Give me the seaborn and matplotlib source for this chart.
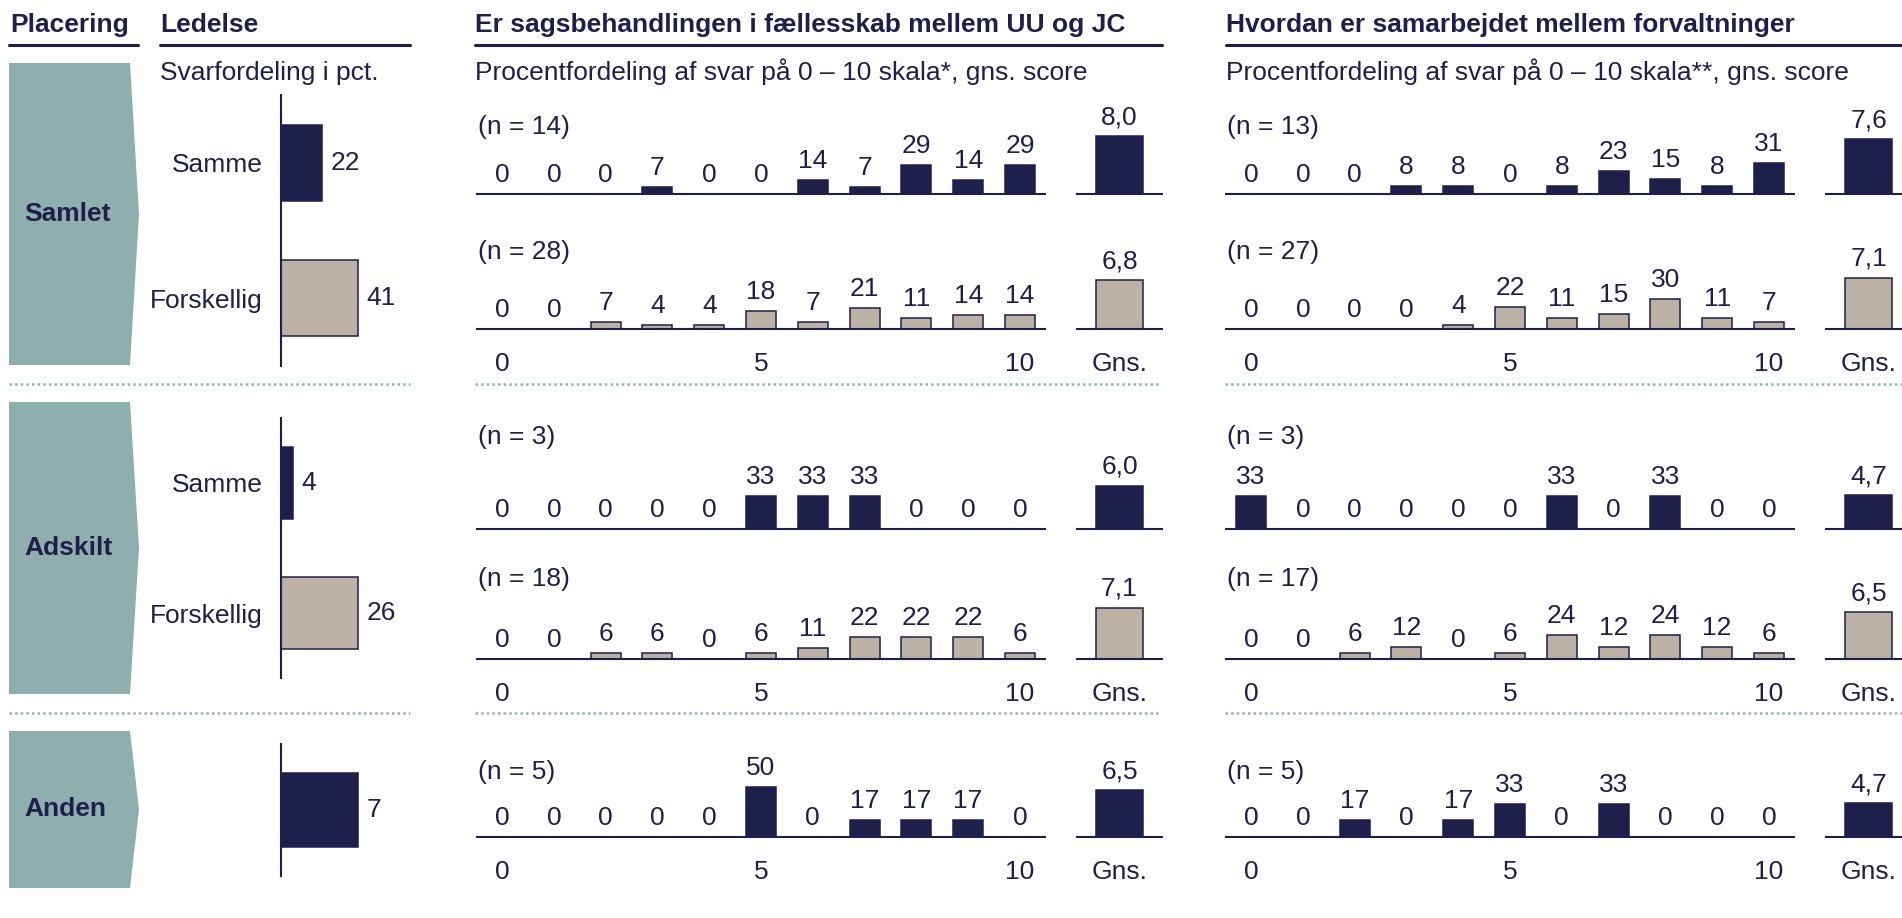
import matplotlib
matplotlib.use('Agg')
import matplotlib.pyplot as plt
from matplotlib.patches import Polygon
from matplotlib.lines import Line2D
import seaborn as sns


# ---- data ----
groups = ['Samlet', 'Adskilt', 'Anden']

ledelse_samlet = [22, 41]
ledelse_adskilt = [4, 26]
ledelse_anden = [7]
ledelse_cats = ['Samme', 'Forskellig']

scale = list(range(11))

# Er sagsbehandlingen i fællesskab mellem UU og JC
sags_samlet_samme = [0, 0, 0, 7, 0, 0, 14, 7, 29, 14, 29]
sags_samlet_forsk = [0, 0, 7, 4, 4, 18, 7, 21, 11, 14, 14]
sags_adskilt_samme = [0, 0, 0, 0, 0, 33, 33, 33, 0, 0, 0]
sags_adskilt_forsk = [0, 0, 6, 6, 0, 6, 11, 22, 22, 22, 6]
sags_anden = [0, 0, 0, 0, 0, 50, 0, 17, 17, 17, 0]
sags_n = [14, 28, 3, 18, 5]
sags_gns = [8.0, 6.8, 6.0, 7.1, 6.5]

# Hvordan er samarbejdet mellem forvaltninger
samarb_samlet_samme = [0, 0, 0, 8, 8, 0, 8, 23, 15, 8, 31]
samarb_samlet_forsk = [0, 0, 0, 0, 4, 22, 11, 15, 30, 11, 7]
samarb_adskilt_samme = [33, 0, 0, 0, 0, 0, 33, 0, 33, 0, 0]
samarb_adskilt_forsk = [0, 0, 6, 12, 0, 6, 24, 12, 24, 12, 6]
samarb_anden = [0, 0, 17, 0, 17, 33, 0, 33, 0, 0, 0]
samarb_n = [13, 27, 3, 17, 5]
samarb_gns = [7.6, 7.1, 4.7, 6.5, 4.7]

# ---- style ----
NAVY = '#1f1f4b'
BEIGE = '#bcb1a5'
TEAL = '#8fafaf'
DOT = '#8fb4b4'

sns.set_style('white')
plt.rcParams['font.family'] = ['Liberation Sans', 'DejaVu Sans']
plt.rcParams['font.size'] = 19
plt.rcParams['text.color'] = NAVY

W, H = 1902, 918
fig = plt.figure(figsize=(W / 100, H / 100), dpi=100)


def fx(x):
    return x / W


def fy(y):
    return 1 - y / H


def px_axes(left, top, width, height):
    return fig.add_axes([left / W, 1 - (top + height) / H, width / W, height / H])


def hline(x0, x1, y, **kw):
    fig.add_artist(Line2D([fx(x0), fx(x1)], [fy(y), fy(y)], transform=fig.transFigure, **kw))


def clean(ax):
    for s in ['top', 'right', 'left']:
        ax.spines[s].set_visible(False)
    ax.set_xlabel('')
    ax.set_ylabel('')


# ---- headers ----
fig.text(fx(10), fy(32), 'Placering', fontweight='bold', va='baseline')
fig.text(fx(160), fy(32), 'Ledelse', fontweight='bold', va='baseline')
fig.text(fx(475), fy(32), 'Er sagsbehandlingen i fællesskab mellem UU og JC', fontweight='bold', va='baseline')
fig.text(fx(1226), fy(32), 'Hvordan er samarbejdet mellem forvaltninger', fontweight='bold', va='baseline')
for x0, x1 in [(9, 138), (160, 410), (475, 1162), (1226, 1902)]:
    hline(x0, x1, 45, color=NAVY, lw=2.2)

fig.text(fx(160), fy(80), 'Svarfordeling i pct.', va='baseline')
fig.text(fx(475), fy(80), 'Procentfordeling af svar på 0 – 10 skala*, gns. score', va='baseline')
fig.text(fx(1226), fy(80), 'Procentfordeling af svar på 0 – 10 skala**, gns. score', va='baseline')

# dotted separators
for y in [384, 713]:
    for x0, x1 in [(9, 410), (475, 1160), (1225, 1902)]:
        hline(x0, x1, y, color=DOT, lw=1.8, linestyle=(0, (1, 1.25)))

# ---- placering arrows ----
arrow_span = [(63, 365), (402, 694), (731, 888)]
for name, (top, bot) in zip(groups, arrow_span):
    mid = (top + bot) / 2
    pts = [(9, top), (130, top), (139, mid), (130, bot), (9, bot)]
    poly = Polygon([(fx(x), fy(y)) for x, y in pts], closed=True,
                   facecolor=TEAL, edgecolor='none', transform=fig.transFigure)
    fig.add_artist(poly)
    fig.text(fx(24), fy(mid), name, fontweight='bold', va='center')

# ---- ledelse bars ----
led_axes = [(95, 271), (418, 260), (744, 132)]
led_vals = [ledelse_samlet, ledelse_adskilt, ledelse_anden]
led_labels = [ledelse_cats, ledelse_cats, ['Anden']]
led_pal = [[NAVY, BEIGE], [NAVY, BEIGE], [NAVY]]
for (top, h), vals, cats, pal in zip(led_axes, led_vals, led_labels, led_pal):
    ax = px_axes(281, top, 150, h)
    sns.barplot(x=vals, y=cats, hue=cats, palette=pal, legend=False, orient='h',
                width=0.56, saturation=1, edgecolor=NAVY, linewidth=1.1, ax=ax)
    clean(ax)
    ax.spines['left'].set_visible(True)
    ax.spines['left'].set_color(NAVY)
    ax.spines['left'].set_linewidth(1.5)
    ax.spines['bottom'].set_visible(False)
    ax.set_xlim(0, max(vals) * 150 / 77)
    ax.set_ylim(len(vals) - 0.5, -0.5)
    ax.tick_params(left=False, bottom=False, labelbottom=False, pad=10,
                   labelcolor=NAVY, labelsize=19)
    if len(vals) == 1:
        ax.tick_params(labelleft=False)
    for i, v in enumerate(vals):
        ax.annotate(str(v), xy=(v, i), xytext=(6, 0), textcoords='offset points',
                    ha='left', va='center', color=NAVY, fontsize=19)

# ---- distribution panels ----
row_base = [194, 329, 529, 659, 837]
row_nlab = [127, 252, 437, 579, 772]
row_ticks = [False, True, False, True, True]
row_color = [NAVY, BEIGE, NAVY, BEIGE, NAVY]

panels = [
    (477, [sags_samlet_samme, sags_samlet_forsk, sags_adskilt_samme, sags_adskilt_forsk, sags_anden],
     sags_n, sags_gns),
    (1226, [samarb_samlet_samme, samarb_samlet_forsk, samarb_adskilt_samme, samarb_adskilt_forsk, samarb_anden],
     samarb_n, samarb_gns),
]

for left, rows, ns, gns in panels:
    for r, pct in enumerate(rows):
        base = row_base[r]
        ax = px_axes(left, base - 100, 568, 100)
        sns.barplot(x=scale, y=pct, orient='v', color=row_color[r], saturation=1,
                    width=0.58, edgecolor=NAVY, linewidth=1.1, ax=ax)
        clean(ax)
        ax.spines['bottom'].set_color(NAVY)
        ax.spines['bottom'].set_linewidth(1.5)
        ax.set_xlim(-0.483, 10.483)
        ax.set_ylim(0, 100)
        ax.set_yticks([])
        for i, v in enumerate(pct):
            ax.annotate(str(v), xy=(i, v), xytext=(0, 8.6), textcoords='offset points',
                        ha='center', va='baseline', color=NAVY, fontsize=19)
        if row_ticks[r]:
            ax.set_xticks([0, 5, 10], ['0', '5', '10'])
            ax.tick_params(bottom=False, pad=13, labelcolor=NAVY, labelsize=19)
        else:
            ax.tick_params(bottom=False, labelbottom=False)
        fig.text(fx(left + 1), fy(row_nlab[r]), f'(n = {ns[r]})', va='center')

        gax = px_axes(left + 600, base - 100, 85, 100)
        sns.barplot(x=['Gns.'], y=[gns[r]], orient='v', color=row_color[r], saturation=1,
                    width=0.553, edgecolor=NAVY, linewidth=1.1, ax=gax)
        clean(gax)
        gax.spines['bottom'].set_color(NAVY)
        gax.spines['bottom'].set_linewidth(1.5)
        gax.set_xlim(-0.5, 0.5)
        gax.set_ylim(0, 100 / 7.2)
        gax.set_yticks([])
        gax.annotate(f'{gns[r]:.1f}'.replace('.', ','), xy=(0, gns[r]), xytext=(0, 8.6),
                     textcoords='offset points', ha='center', va='baseline', color=NAVY, fontsize=19)
        if row_ticks[r]:
            gax.tick_params(bottom=False, pad=13, labelcolor=NAVY, labelsize=19)
        else:
            gax.tick_params(bottom=False, labelbottom=False)

fig.savefig('out.png', dpi=100)
